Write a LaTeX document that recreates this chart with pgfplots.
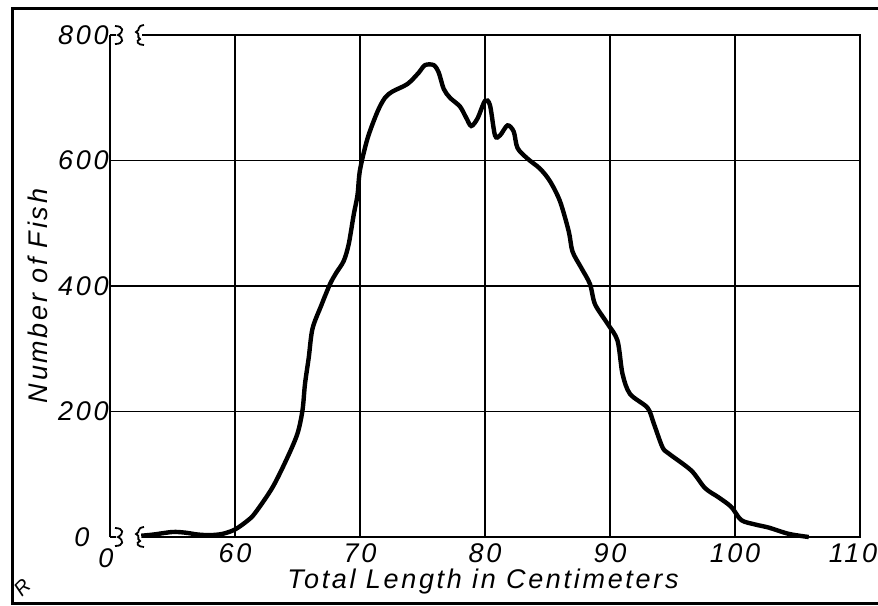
\documentclass[border=0pt]{standalone}
\usepackage{fontspec}
\setmainfont{Liberation Sans}[LetterSpace=10]
\usepackage{pgfplots}
\pgfplotsset{compat=1.18}

\newcommand\lettering{\itshape\fontsize{13.5}{16}\selectfont}

% broken-axis symbol: a small "3" hook followed by a wavy brace
\newcommand\axisbreak[1]{%
  \begin{scope}[shift={(#1)}, x=0.5pt, y=-0.5pt, line width=0.9pt]
    \draw (0,0) -- (6,0);
    \draw (5,-9) .. controls (14,-9) and (14,-3) .. (8,0)
                 .. controls (14,3) and (14,9) .. (5,9);
    \draw (34,-10) .. controls (26,-9) and (31,-5) .. (26,-3)
                   .. controls (31,-1) and (26,2) .. (30,4)
                   .. controls (25,6) and (28,10) .. (34,10);
  \end{scope}}

\begin{document}
\begin{tikzpicture}
\useasboundingbox (0,0) rectangle (439pt,-302.5pt);
% outer frame of the plate
\draw[line width=1.5pt] (440pt,-4pt) -- (6pt,-4pt) -- (6pt,-301.5pt) -- (440pt,-301.5pt);
\begin{axis}[
  at={(55pt,-268.5pt)}, anchor=south west,
  scale only axis, width=375pt, height=251pt,
  xmin=50, xmax=110, ymin=0, ymax=800,
  axis line style={draw=none},
  xtick={60,70,...,110}, ytick={200,400,600},
  xticklabels={60,70,80,90,100,{\hspace*{-7pt}110}},
  extra y ticks={800}, extra tick style={grid=none},
  grid=major, major grid style={black, line width=0.7pt},
  major tick length=0pt,
  tick label style={font=\lettering},
  /pgf/number format/assume math mode=true,
  yticklabel style={anchor=east, inner sep=0.5pt},
  xticklabel style={anchor=north, inner sep=3pt},
  clip=false,
]
% frame, interrupted at the lower left by the axis break
\draw[line width=1pt] (axis cs:50,0) -- (axis cs:50,800);
\draw[line width=1pt] (axis cs:52.6,800) -- (axis cs:110,800) -- (axis cs:110,0) -- (axis cs:52.6,0);
\coordinate (tl) at (axis cs:50,800);
\coordinate (bl) at (axis cs:50,0);

\addplot[black, line width=2.2pt, smooth, tension=0.5] table {
x y
52.5 2
53.5 4
55.0 8
56.0 7
57.0 4
58.0 3
59.0 5
60.0 12
61.0 26
61.6 38
63.0 79
64.2 127
65.0 165
65.4 202
65.6 244
65.9 286
66.2 332
66.9 369
67.6 403
68.1 421
68.7 440
69.1 467
69.5 514
69.8 545
70.0 585
70.6 635
71.4 678
72.0 700
72.6 710
73.8 722
74.7 740
75.2 752
75.9 752
76.3 740
76.7 714
77.2 700
78.0 686
78.5 668
78.9 655
79.4 667
80.0 695
80.4 688
80.8 640
81.2 640
81.8 656
82.3 646
82.6 620
83.4 603
84.4 587
85.2 567
86.0 535
86.7 487
87.0 455
87.7 429
88.4 403
88.8 371
89.8 340
90.6 313
91.0 260
91.6 228
93.0 206
93.5 181
94.2 143
94.7 133
96.5 106
97.6 78
98.7 63
99.7 48
100.5 27
101.6 20
102.7 15
104.3 5
105.9 0
};
\end{axis}
\axisbreak{tl}
\axisbreak{bl}
% zero labels of both scales
\node[font=\lettering] at (41pt,-268.5pt) {0};
\node[font=\lettering] at (53pt,-279pt) {0};
% axis titles
\node[font=\lettering] at (241.5pt,-291pt) {Total Length in Centimeters};
\node[font=\lettering, rotate=90] at (19pt,-148pt) {Number of Fish};
% engraver's mark
\node[font=\itshape\fontsize{10}{11}\selectfont, rotate=45] at (11pt,-294pt) {R};
\end{tikzpicture}
\end{document}
